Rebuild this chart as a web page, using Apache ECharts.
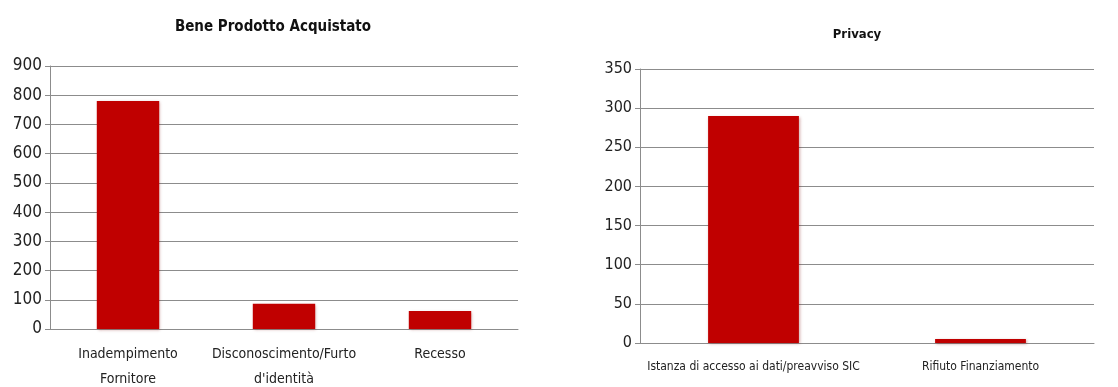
<!DOCTYPE html>
<html>
<head>
<meta charset="utf-8">
<script src="https://cdn.jsdelivr.net/npm/echarts@6/dist/echarts.min.js"></script>
<style>
  html, body { margin: 0; padding: 0; background: #fff; }
  #chart { width: 1118px; height: 387px; }
</style>
</head>
<body>
<div id="chart"></div>
<script>
// dati
const beneCategories = ['Inadempimento\nFornitore', 'Disconoscimento/Furto\nd\'identità', 'Recesso']
const beneValues = [780, 86, 62]
const privacyCategories = ['Istanza di accesso ai dati/preavviso SIC', 'Rifiuto Finanziamento']
const privacyValues = [290, 5]

const FONT = "'Liberation Sans Narrow', 'DejaVu Sans Condensed', 'Open Sans', sans-serif"
const BAR = '#c00000'
const GRID_LINE = '#8c8c8c'

const chart = echarts.init(document.getElementById('chart'))

const yAxisBase = (max, interval, size) => ({
  type: 'value',
  min: 0,
  max: max,
  interval: interval,
  axisLine: { show: true, lineStyle: { color: GRID_LINE, width: 1 } },
  axisTick: { show: true, length: 5, lineStyle: { color: GRID_LINE } },
  axisLabel: { color: '#222', fontFamily: FONT, fontSize: size, margin: 8 },
  splitLine: { lineStyle: { color: GRID_LINE, width: 1 } }
})

const xAxisBase = (data, size, margin, lh) => ({
  type: 'category',
  data: data,
  axisLine: { show: true, lineStyle: { color: GRID_LINE } },
  axisTick: { show: false },
  axisLabel: { color: '#222', fontFamily: FONT, fontSize: size, margin: margin, lineHeight: lh, interval: 0 }
})

const barStyle = {
  color: BAR,
  shadowColor: 'rgba(120,0,0,0.35)',
  shadowBlur: 3,
  shadowOffsetX: 1,
  shadowOffsetY: 1
}

chart.setOption({
  animation: false,
  backgroundColor: '#fff',
  title: [
    {
      text: 'Bene Prodotto Acquistato',
      left: 268, top: 15, textAlign: 'center',
      textStyle: { fontFamily: FONT, fontSize: 15, fontWeight: 'bold', color: '#111' }
    },
    {
      text: 'Privacy',
      left: 852, top: 23, textAlign: 'center',
      textStyle: { fontFamily: FONT, fontSize: 13, fontWeight: 'bold', color: '#111' }
    }
  ],
  grid: [
    { left: 50, right: 600, top: 66, bottom: 58, outerBoundsMode: 'none' },
    { left: 640, right: 24, top: 69, bottom: 44, outerBoundsMode: 'none' }
  ],
  xAxis: [
    Object.assign(xAxisBase(beneCategories, 14, 13, 25), { gridIndex: 0 }),
    Object.assign(xAxisBase(privacyCategories, 12, 15, 18), { gridIndex: 1 })
  ],
  yAxis: [
    Object.assign(yAxisBase(900, 100, 17), { gridIndex: 0 }),
    Object.assign(yAxisBase(350, 50, 16), { gridIndex: 1 })
  ],
  series: [
    {
      type: 'bar', xAxisIndex: 0, yAxisIndex: 0,
      data: beneValues, barWidth: '40%', itemStyle: barStyle
    },
    {
      type: 'bar', xAxisIndex: 1, yAxisIndex: 1,
      data: privacyValues, barWidth: '40%', itemStyle: barStyle
    }
  ]
})
</script>
</body>
</html>
